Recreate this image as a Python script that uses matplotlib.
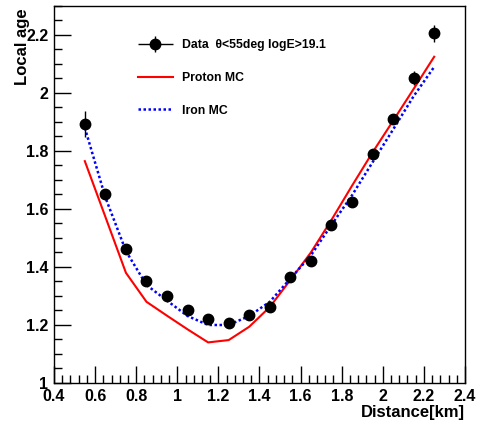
import numpy as np
import matplotlib
matplotlib.use('Agg')
import matplotlib.pyplot as plt
from matplotlib.container import ErrorbarContainer
from matplotlib.legend_handler import HandlerErrorbar
from matplotlib.ticker import MultipleLocator

plt.rcParams['font.family'] = ['Liberation Sans', 'DejaVu Sans']
plt.rcParams['font.weight'] = 'bold'

# distance bins [km]
distance = [0.55, 0.65, 0.75, 0.85, 0.95, 1.05, 1.15, 1.25, 1.35,
            1.45, 1.55, 1.65, 1.75, 1.85, 1.95, 2.05, 2.15, 2.25]

# measured local age and its error
data_age = [1.893, 1.653, 1.461, 1.353, 1.301, 1.252, 1.220, 1.208, 1.234,
            1.263, 1.364, 1.422, 1.545, 1.625, 1.789, 1.910, 2.052, 2.206]
data_err = [0.045, 0.010, 0.008, 0.008, 0.008, 0.008, 0.008, 0.008, 0.008,
            0.008, 0.008, 0.008, 0.010, 0.010, 0.012, 0.015, 0.025, 0.030]

# simulations
proton_age = [1.765, 1.573, 1.380, 1.280, 1.232, 1.185, 1.140, 1.148, 1.194,
              1.262, 1.355, 1.450, 1.562, 1.680, 1.795, 1.904, 2.014, 2.125]
iron_age = [1.880, 1.640, 1.455, 1.338, 1.284, 1.231, 1.200, 1.200, 1.231,
            1.280, 1.360, 1.440, 1.545, 1.647, 1.761, 1.874, 1.989, 2.090]

W, H = 481, 426
fig = plt.figure(figsize=(W / 100, H / 100), dpi=100)
ax = fig.add_axes([54 / W, (H - 383) / H, (465 - 54) / W, (383 - 6) / H])

ax.plot(distance, proton_age, color='red', lw=1.5, label='Proton MC')
ax.plot(distance, iron_age, color='blue', lw=1.8, dashes=(1, 1), label='Iron MC')
eb = ax.errorbar(distance, data_age, yerr=data_err, xerr=np.zeros(len(distance)),
                 fmt='o', color='black', ms=7.5, elinewidth=1, capsize=0,
                 label='Data  \u03b8<55deg logE>19.1')

ax.set_xlim(0.4, 2.4)
ax.set_ylim(1.0, 2.3)
ax.xaxis.set_minor_locator(MultipleLocator(0.04))
ax.yaxis.set_minor_locator(MultipleLocator(0.05))
ax.set_xticks([0.4, 0.6, 0.8, 1.0, 1.2, 1.4, 1.6, 1.8, 2.0, 2.2, 2.4])
ax.set_xticklabels(['0.4', '0.6', '0.8', '1', '1.2', '1.4', '1.6', '1.8', '2', '2.2', '2.4'])
ax.set_yticks([1.0, 1.2, 1.4, 1.6, 1.8, 2.0, 2.2])
ax.set_yticklabels(['1', '1.2', '1.4', '1.6', '1.8', '2', '2.2'])

ax.tick_params(which='both', direction='in', top=False, right=False,
               labelsize=11.5, width=1)
ax.tick_params(which='major', length=12)
ax.tick_params(which='minor', length=6)
ax.tick_params(axis='x', pad=4)
ax.tick_params(axis='y', pad=4)
for s in ax.spines.values():
    s.set_linewidth(1)

ax.set_xlabel('Distance[km]', fontsize=12, fontweight='bold', loc='right', labelpad=1)
ax.set_ylabel('Local age', fontsize=12, fontweight='bold', loc='top', labelpad=-3)
ax.yaxis.label.set_position((0, 0.995))

handles, labels = ax.get_legend_handles_labels()
order = [2, 0, 1]
ax.legend([handles[i] for i in order], [labels[i] for i in order],
          loc='upper left', bbox_to_anchor=(138 / W, 1 - 39 / H),
          bbox_transform=fig.transFigure, frameon=False, fontsize=8.8,
          handlelength=2.85, handletextpad=0.75, labelspacing=1.7,
          borderpad=0, borderaxespad=0,
          handler_map={ErrorbarContainer: HandlerErrorbar(xerr_size=1.4, yerr_size=0.65)})

fig.savefig('out.png', dpi=100)
